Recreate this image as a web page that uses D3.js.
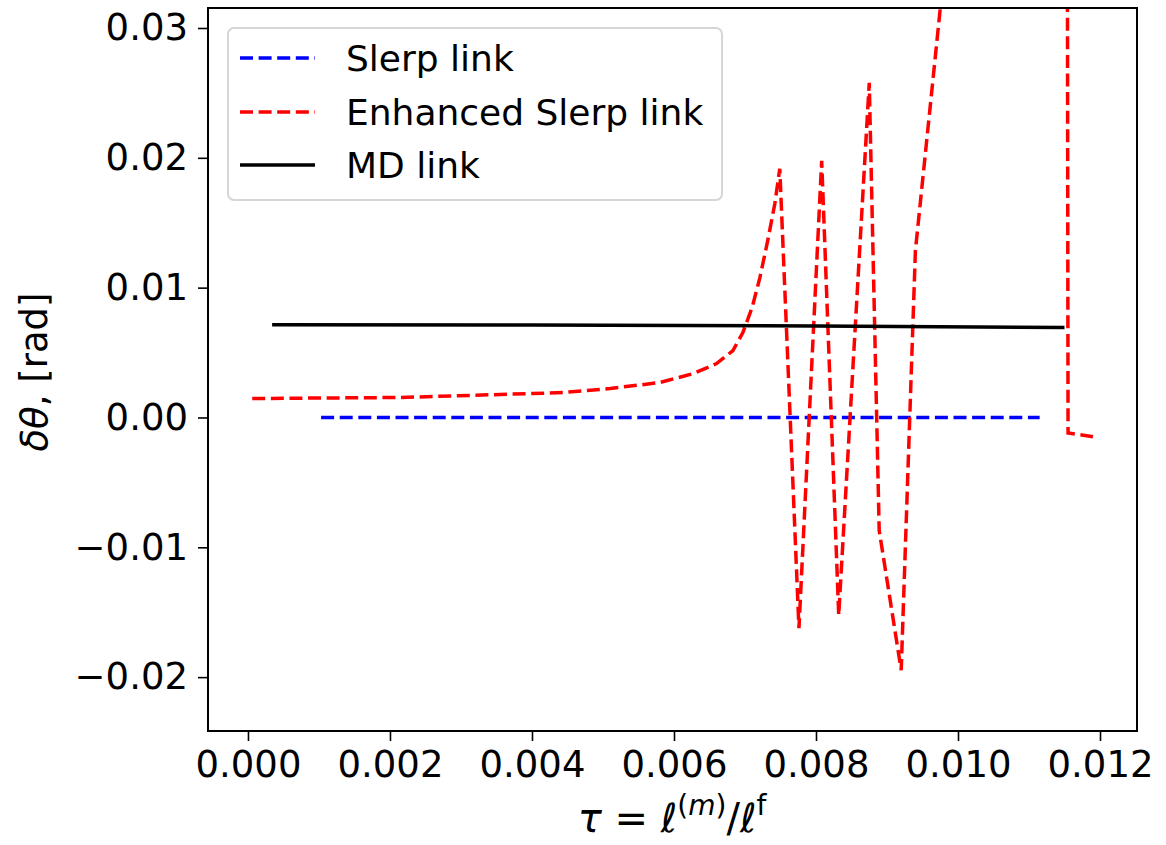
<!DOCTYPE html>
<html lang="en">

<head>
  <title></title>
  <meta charset="UTF-8">
  <script src="https://cdn.jsdelivr.net/npm/d3@7"></script>
  <style>
    body {
      margin: 0;
      background: #fff;
    }
    text {
      font-family: "DejaVu Sans", sans-serif;
    }
  </style>
</head>

<body>
  <div id="container"></div>
  <script>
    // data
    const slerpX = [0.00103, 0.003, 0.005, 0.007, 0.009, 0.01115];
    const slerpY = [0, 0, 0, 0, 0, 0];
    const enhX = [0.00006, 0.00214, 0.00355, 0.00444, 0.0051, 0.0058, 0.00627, 0.0066, 0.00683, 0.00697,
      0.0071, 0.00721, 0.00732, 0.00742, 0.00749, 0.00776, 0.00808, 0.00832, 0.00875, 0.00889, 0.0092,
      0.0094, 0.00975, 0.0105, 0.01153, 0.01155, 0.0119];
    const enhY = [0.00146, 0.00154, 0.00177, 0.00192, 0.00223, 0.00269, 0.00338, 0.00415, 0.00515, 0.00654,
      0.00846, 0.01077, 0.01362, 0.01646, 0.01915, -0.01623, 0.01977, -0.01523, 0.02577, -0.0087, -0.01946,
      0.01285, 0.0315, 0.08, 0.08, -0.0012, -0.00148];
    const mdX = [0.00034, 0.004, 0.008, 0.0115];
    const mdY = [0.00715, 0.00712, 0.00705, 0.00693];
    const xTicks = [0, 0.002, 0.004, 0.006, 0.008, 0.010, 0.012];
    const yTicks = [-0.02, -0.01, 0, 0.01, 0.02, 0.03];
    const seriesNames = ['Slerp link', 'Enhanced Slerp link', 'MD link'];

    const width = 1166, height = 845;
    const plot = { left: 208, top: 8, right: 1137, bottom: 731 };

    const x = d3.scaleLinear()
      .domain([-0.000563, 0.012521])
      .range([plot.left, plot.right]);
    const y = d3.scaleLinear()
      .domain([-0.02415, 0.03154])
      .range([plot.bottom, plot.top]);

    const svg = d3.select('#container')
      .append('svg')
      .attr('width', width)
      .attr('height', height);

    svg.append('clipPath').attr('id', 'clip')
      .append('rect')
      .attr('x', plot.left).attr('y', plot.top)
      .attr('width', plot.right - plot.left).attr('height', plot.bottom - plot.top);

    const line = d3.line().x(d => x(d[0])).y(d => y(d[1]));
    const zip = (a, b) => a.map((v, i) => [v, b[i]]);

    const series = [
      { pts: zip(slerpX, slerpY), color: '#0000ff', dash: '13,5.6' },
      { pts: zip(enhX, enhY), color: '#ff0000', dash: '13,5.6' },
      { pts: zip(mdX, mdY), color: '#000000', dash: null }
    ];

    const g = svg.append('g').attr('clip-path', 'url(#clip)');
    series.forEach(s => {
      g.append('path')
        .attr('d', line(s.pts))
        .attr('fill', 'none')
        .attr('stroke', s.color)
        .attr('stroke-width', 3.5)
        .attr('stroke-dasharray', s.dash);
    });

    // axes
    const xAxis = d3.axisBottom(x).tickValues(xTicks).tickFormat(d3.format('.3f')).tickSizeOuter(0).tickSize(10).tickPadding(10);
    const yAxis = d3.axisLeft(y).tickValues(yTicks).tickFormat(d => d3.format('.2f')(d).replace('-', '\u2212')).tickSizeOuter(0).tickSize(10).tickPadding(10);

    const gx = svg.append('g').attr('transform', `translate(0,${plot.bottom})`).call(xAxis);
    const gy = svg.append('g').attr('transform', `translate(${plot.left},0)`).call(yAxis);
    [gx, gy].forEach(a => {
      a.select('.domain').remove();
      a.selectAll('line').attr('stroke', '#000').attr('stroke-width', 1.6);
      a.selectAll('text').attr('font-size', 37).attr('fill', '#000').attr('font-family', '"DejaVu Sans", sans-serif');
    });

    svg.append('rect')
      .attr('x', plot.left).attr('y', plot.top)
      .attr('width', plot.right - plot.left).attr('height', plot.bottom - plot.top)
      .attr('fill', 'none').attr('stroke', '#000').attr('stroke-width', 2);

    // axis labels
    const xl = svg.append('text')
      .attr('x', 672).attr('y', 832)
      .attr('text-anchor', 'middle')
      .attr('font-size', 40);
    xl.append('tspan').attr('font-style', 'italic').text('τ');
    xl.append('tspan').text(' = ');
    xl.append('tspan').attr('font-style', 'italic').text('ℓ');
    xl.append('tspan').attr('font-size', 28).attr('dy', -17).text('(');
    xl.append('tspan').attr('font-size', 28).attr('font-style', 'italic').text('m');
    xl.append('tspan').attr('font-size', 28).text(')');
    xl.append('tspan').attr('dy', 17).text('/');
    xl.append('tspan').attr('font-style', 'italic').text('ℓ');
    xl.append('tspan').attr('font-size', 28).attr('dy', -17).text('f');

    const yl = svg.append('text')
      .attr('transform', 'translate(47,372) rotate(-90)')
      .attr('text-anchor', 'middle')
      .attr('font-size', 37);
    yl.append('tspan').attr('font-style', 'italic').text('δθ');
    yl.append('tspan').text(', [rad]');

    // legend
    const lg = svg.append('g');
    lg.append('rect')
      .attr('x', 228).attr('y', 28).attr('width', 494).attr('height', 172)
      .attr('rx', 6)
      .attr('fill', 'rgba(255,255,255,0.8)')
      .attr('stroke', '#d6d6d6').attr('stroke-width', 2);
    const rowY = [58, 112, 165];
    series.forEach((s, i) => {
      lg.append('line')
        .attr('x1', 240).attr('x2', 315)
        .attr('y1', rowY[i]).attr('y2', rowY[i])
        .attr('stroke', s.color).attr('stroke-width', 3.5)
        .attr('stroke-dasharray', s.dash);
      lg.append('text')
        .attr('x', 346).attr('y', rowY[i] + 13)
        .attr('font-size', 36)
        .text(seriesNames[i]);
    });
  </script>
</body>

</html>
